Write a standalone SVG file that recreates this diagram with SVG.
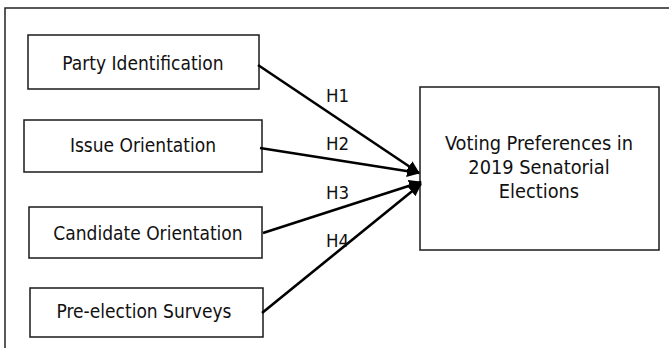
<svg xmlns="http://www.w3.org/2000/svg" width="669" height="348" viewBox="0 0 669 348">
<style>
.box{fill:#fff;stroke:#1a1a1a;stroke-width:1.5}
.t{font-family:"DejaVu Sans Condensed","DejaVu Sans",sans-serif;font-stretch:condensed;font-size:19px;fill:#111;text-anchor:middle}
.v{font-size:19.8px}
.h{font-family:"DejaVu Sans Condensed","DejaVu Sans",sans-serif;font-stretch:condensed;font-size:18.5px;fill:#111}
.c{stroke:#000;stroke-width:2.6;fill:none;marker-end:url(#ah)}
</style>
<defs>
<marker id="ah" markerUnits="userSpaceOnUse" markerWidth="13" markerHeight="12" refX="12" refY="6" orient="auto">
<path d="M0,0 L13,6 L0,12 z" fill="#000"/>
</marker>
</defs>
<rect x="0" y="0" width="669" height="348" fill="#fff"/>
<rect x="5" y="8" width="700" height="400" fill="none" stroke="#222" stroke-width="1.5"/>
<g id="party"><rect class="box" x="28" y="35" width="231" height="54"/><text class="t" x="143" y="70">Party Identification</text></g>
<g id="issue"><rect class="box" x="24" y="120" width="238" height="52"/><text class="t" x="143" y="152">Issue Orientation</text></g>
<g id="candidate"><rect class="box" x="29" y="207" width="233" height="51"/><text class="t" x="148" y="240">Candidate Orientation</text></g>
<g id="survey"><rect class="box" x="30" y="288" width="233" height="49"/><text class="t" x="144" y="318">Pre-election Surveys</text></g>
<g id="voting"><rect class="box" x="420" y="87" width="239" height="163"/>
<text class="t v" x="539" y="150">Voting Preferences in</text>
<text class="t v" x="539" y="174">2019 Senatorial</text>
<text class="t v" x="539" y="198">Elections</text></g>
<g id="connectors">
<line class="c" x1="258" y1="65" x2="419" y2="173"/>
<line class="c" x1="260" y1="148" x2="419" y2="173"/>
<line class="c" x1="263" y1="233" x2="421" y2="182"/>
<line class="c" x1="262" y1="313" x2="421" y2="184"/>
<text class="h" x="326" y="102">H1</text>
<text class="h" x="326" y="150">H2</text>
<text class="h" x="326" y="199">H3</text>
<text class="h" x="326" y="247">H4</text>
</g>
</svg>
